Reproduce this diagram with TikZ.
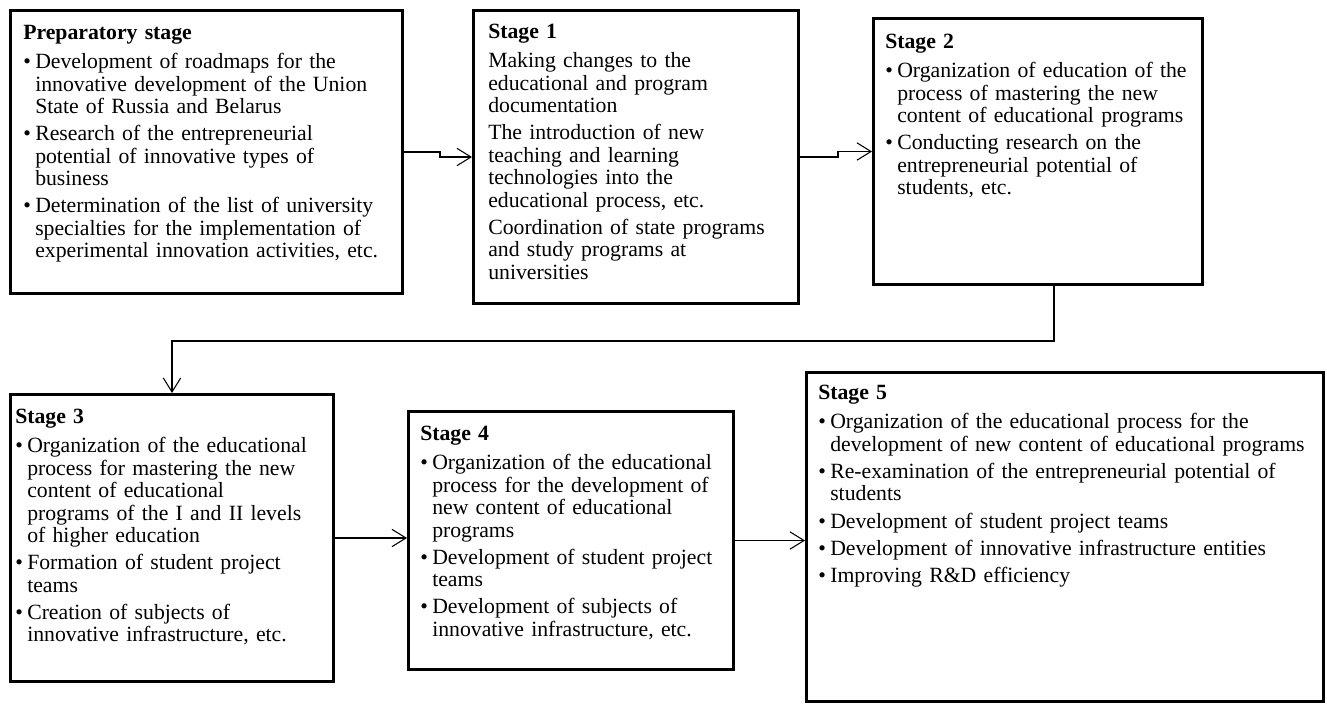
\documentclass[tikz,border=0pt]{standalone}
\usepackage{fontspec}
\setmainfont{Liberation Serif}
\usetikzlibrary{arrows.meta,calc}
\newcommand{\ttl}[1]{{\noindent\textbf{#1}\par}\vspace{1.5pt}}
\newcommand{\itm}[1]{{\hangindent=9pt\hangafter=1\noindent\makebox[9pt][l]{•}#1\par}}
\newcommand{\pln}[1]{{\noindent#1\par}}
\begin{document}
\begin{tikzpicture}[x=0.75pt,y=-0.75pt,
  box/.style={draw=black,line width=2.25pt,anchor=north west,inner sep=0pt},
  txt/.style={anchor=north west,inner sep=0pt,text width=380pt,align=left,
    font=\fontsize{16.3}{16.8}\selectfont,
    execute at begin node={\setlength{\parskip}{3.6pt}}},
  arr/.style={draw=black,line width=0.8pt,-{Straight Barb[length=10.5pt,width=13pt,line width=0.8pt]}}]
\useasboundingbox (0,0) rectangle (1327,704);
% boxes
\node[box,minimum width=294pt,minimum height=212.25pt] (prep) at (9,9) {};
\node[box,minimum width=243.75pt,minimum height=219.75pt] (s1) at (472,9) {};
\node[box,minimum width=246.75pt,minimum height=199.5pt] (s2) at (872,17) {};
\node[box,minimum width=242.25pt,minimum height=215.25pt] (s3) at (9,393) {};
\node[box,minimum width=243.75pt,minimum height=193.5pt] (s4) at (407,410) {};
\node[box,minimum width=387.75pt,minimum height=246.75pt] (s5) at (805,371) {};
% texts
\node[txt] (prept) at ($(prep.north west)+(14,16)$) {%
\ttl{Preparatory stage}
\itm{Development of roadmaps for the\newline innovative development of the Union\newline State of Russia and Belarus}
\itm{Research of the entrepreneurial\newline potential of innovative types of\newline business}
\itm{Determination of the list of university\newline specialties for the implementation of\newline experimental innovation activities, etc.}};
\node[txt] (s1t) at ($(s1.north west)+(16,15)$) {%
\ttl{Stage 1}
\pln{Making changes to the\newline educational and program\newline documentation}
\pln{The introduction of new\newline teaching and learning\newline technologies into the\newline educational process, etc.}
\pln{Coordination of state programs\newline and study programs at\newline universities}};
\node[txt] (s2t) at ($(s2.north west)+(13,17)$) {%
\ttl{Stage 2}
\itm{Organization of education of the\newline process of mastering the new\newline content of educational programs}
\itm{Conducting research on the\newline entrepreneurial potential of\newline students, etc.}};
\node[txt] (s3t) at ($(s3.north west)+(6,16)$) {%
\ttl{Stage 3}
\itm{Organization of the educational\newline process for mastering the new\newline content of educational\newline programs of the I and II levels\newline of higher education}
\itm{Formation of student project\newline teams}
\itm{Creation of subjects of\newline innovative infrastructure, etc.}};
\node[txt] (s4t) at ($(s4.north west)+(13,16)$) {%
\ttl{Stage 4}
\itm{Organization of the educational\newline process for the development of\newline new content of educational\newline programs}
\itm{Development of student project\newline teams}
\itm{Development of subjects of\newline innovative infrastructure, etc.}};
\node[txt] (s5t) at ($(s5.north west)+(13,14)$) {%
\ttl{Stage 5}
\itm{Organization of the educational process for the\newline development of new content of educational programs}
\itm{Re-examination of the entrepreneurial potential of\newline students}
\itm{Development of student project teams}
\itm{Development of innovative infrastructure entities}
\itm{Improving R\&D efficiency}};
% connectors
\draw[arr] (prep.east) -- ++(36,0) |- (s1.west);
\draw[arr] (s1.east) -- ++(38,0) |- (s2.west);
\draw[arr] ($(s2.south)+(16,0)$) -- ++(0,55) -| (s3.north);
\draw[arr] (s3.east) -- (s3.east -| s4.west);
\draw[arr] (s4.east) -- (s4.east -| s5.west);
\end{tikzpicture}
\end{document}
